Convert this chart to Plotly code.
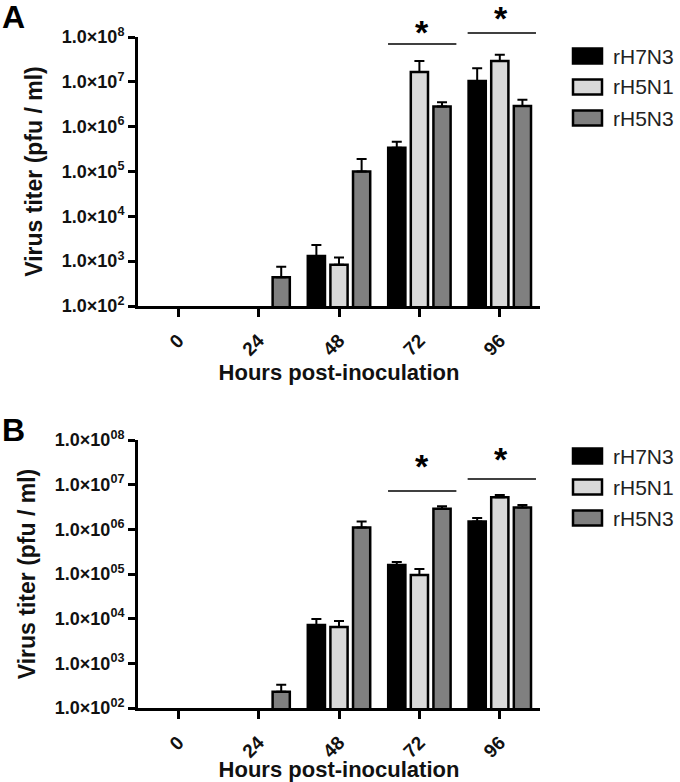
import plotly.graph_objects as go

# ---------------- data ----------------
hours = ["0", "24", "48", "72", "96"]
series_names = ["rH7N3", "rH5N1", "rH5N3"]
series_colors = ["#000000", "#d9d9d9", "#808080"]

# Panel A (mean titer, pfu/ml) ; None = below detection
a_rh7n3 = [None, None, 1.3e3, 3.4e5, 1.05e7]
a_rh5n1 = [None, None, 8.3e2, 1.66e7, 2.9e7]
a_rh5n3 = [None, 4.4e2, 1.0e5, 2.8e6, 2.9e6]
a_rh7n3_sd = [0, 0, 1.0e3, 1.2e5, 9.5e6]
a_rh5n1_sd = [0, 0, 3.7e2, 1.24e7, 1.1e7]
a_rh5n3_sd = [0, 3.1e2, 9.0e4, 7.0e5, 1.1e6]

# Panel B
b_rh7n3 = [None, None, 7.2e3, 1.6e5, 1.5e6]
b_rh5n1 = [None, None, 6.5e3, 9.5e4, 5.2e6]
b_rh5n3 = [None, 2.3e2, 1.1e6, 2.9e6, 3.1e6]
b_rh7n3_sd = [0, 0, 2.6e3, 2.5e4, 3.0e5]
b_rh5n1_sd = [0, 0, 2.4e3, 3.5e4, 7.0e5]
b_rh5n3_sd = [0, 1.0e2, 4.0e5, 4.0e5, 4.0e5]

tick_vals = [1e2, 1e3, 1e4, 1e5, 1e6, 1e7, 1e8]
a_tick_text = ["1.0×10<sup>%d</sup>" % e for e in range(2, 9)]
b_tick_text = ["1.0×10<sup>%02d</sup>" % e for e in range(2, 9)]

x_title = "Hours post-inoculation"
y_title = "Virus titer (pfu / ml)"

# ---------------- layout helpers ----------------
W, H = 680, 782
def px(x):
    return x / W
def py(y):
    return 1 - y / H

FONT = "Liberation Sans, Arial, sans-serif"

fig = go.Figure()

panels = [
    ("x", "y", [a_rh7n3, a_rh5n1, a_rh5n3], [a_rh7n3_sd, a_rh5n1_sd, a_rh5n3_sd]),
    ("x2", "y2", [b_rh7n3, b_rh5n1, b_rh5n3], [b_rh7n3_sd, b_rh5n1_sd, b_rh5n3_sd]),
]
for xa, ya, vals, sds in panels:
    for name, color, v, sd in zip(series_names, series_colors, vals, sds):
        fig.add_trace(go.Bar(
            x=hours, y=v, name=name, xaxis=xa, yaxis=ya,
            marker=dict(color=color, line=dict(color="#000000", width=2.5)),
            error_y=dict(type="data", symmetric=False, array=sd,
                         arrayminus=[0] * len(sd), color="#000000",
                         thickness=2, width=5),
            showlegend=False,
        ))

axis_common_x = dict(
    type="category", categoryorder="array", categoryarray=hours,
    range=[-0.5, 4.5], showline=True, linecolor="#000000", linewidth=3,
    ticks="outside", ticklen=8, tickwidth=2.5, tickcolor="#000000",
    tickangle=-45, showgrid=False, zeroline=False, automargin=False,
    ticklabelstandoff=5,
    tickfont=dict(family=FONT, size=19, color="#111111", weight="bold"),
    title=dict(text=x_title, standoff=4,
               font=dict(family=FONT, size=22, color="#111111", weight="bold")),
    domain=[px(138), px(540)],
)
axis_common_y = dict(
    type="log", range=[2, 8], tickvals=tick_vals,
    showline=True, linecolor="#000000", linewidth=3,
    ticks="outside", ticklen=7, tickwidth=2.5, tickcolor="#000000",
    showgrid=False, zeroline=False, automargin=False,
    tickfont=dict(family=FONT, size=18, color="#111111", weight="bold"),
    title=dict(text=y_title, standoff=13,
               font=dict(family=FONT, size=23, color="#111111", weight="bold")),
)

fig.update_layout(
    width=W, height=H, autosize=False,
    margin=dict(l=0, r=0, t=0, b=0, pad=0),
    paper_bgcolor="white", plot_bgcolor="white",
    barmode="group", bargap=0.156, bargroupgap=0.24,
    showlegend=False,
    xaxis=dict(axis_common_x, anchor="y"),
    xaxis2=dict(axis_common_x, anchor="y2"),
    yaxis=dict(axis_common_y, ticktext=a_tick_text, anchor="x",
               domain=[py(306), py(37)]),
    yaxis2=dict(axis_common_y, ticktext=b_tick_text, anchor="x2",
                domain=[py(708), py(440)]),
)

shapes = []
annotations = []

# panel letters
annotations.append(dict(text="<b>A</b>", xref="paper", yref="paper", x=px(0), y=py(17),
                        xanchor="left", yanchor="middle", showarrow=False,
                        font=dict(family=FONT, size=32, color="#000000")))
annotations.append(dict(text="<b>B</b>", xref="paper", yref="paper", x=px(0), y=py(430),
                        xanchor="left", yanchor="middle", showarrow=False,
                        font=dict(family=FONT, size=32, color="#000000")))

# significance brackets
sig = [
    ("x", [(2.61, 3.46, 44, 3.03, 28), (3.6, 4.45, 33, 4.01, 14)]),
    ("x2", [(2.61, 3.46, 491, 3.03, 462), (3.6, 4.45, 479, 4.01, 455)]),
]
for xr, items in sig:
    for x0, x1, ly, ax, ay in items:
        shapes.append(dict(type="line", xref=xr, yref="paper", x0=x0, x1=x1,
                           y0=py(ly), y1=py(ly), line=dict(color="#000000", width=1.5)))
        annotations.append(dict(text="<b>*</b>", xref=xr, yref="paper", x=ax, y=py(ay + 4),
                                xanchor="center", yanchor="middle", showarrow=False,
                                font=dict(family=FONT, size=34, color="#000000")))

# legends (one per panel)
for rows in ([56, 87, 118], [456, 487, 518]):
    for name, color, cy in zip(series_names, series_colors, rows):
        shapes.append(dict(type="rect", xref="paper", yref="paper",
                           x0=px(573), x1=px(602), y0=py(cy - 7.5), y1=py(cy + 7.5),
                           fillcolor=color, line=dict(color="#000000", width=2.5)))
        annotations.append(dict(text=name, xref="paper", yref="paper", x=px(611), y=py(cy),
                                xanchor="left", yanchor="middle", showarrow=False,
                                font=dict(family=FONT, size=21, color="#222222")))

fig.update_layout(shapes=shapes, annotations=annotations)

fig.write_html(
    "out.html",
    config={"displayModeBar": False},
    post_script="document.body.style.margin='0px';document.body.style.overflow='hidden';",
)
